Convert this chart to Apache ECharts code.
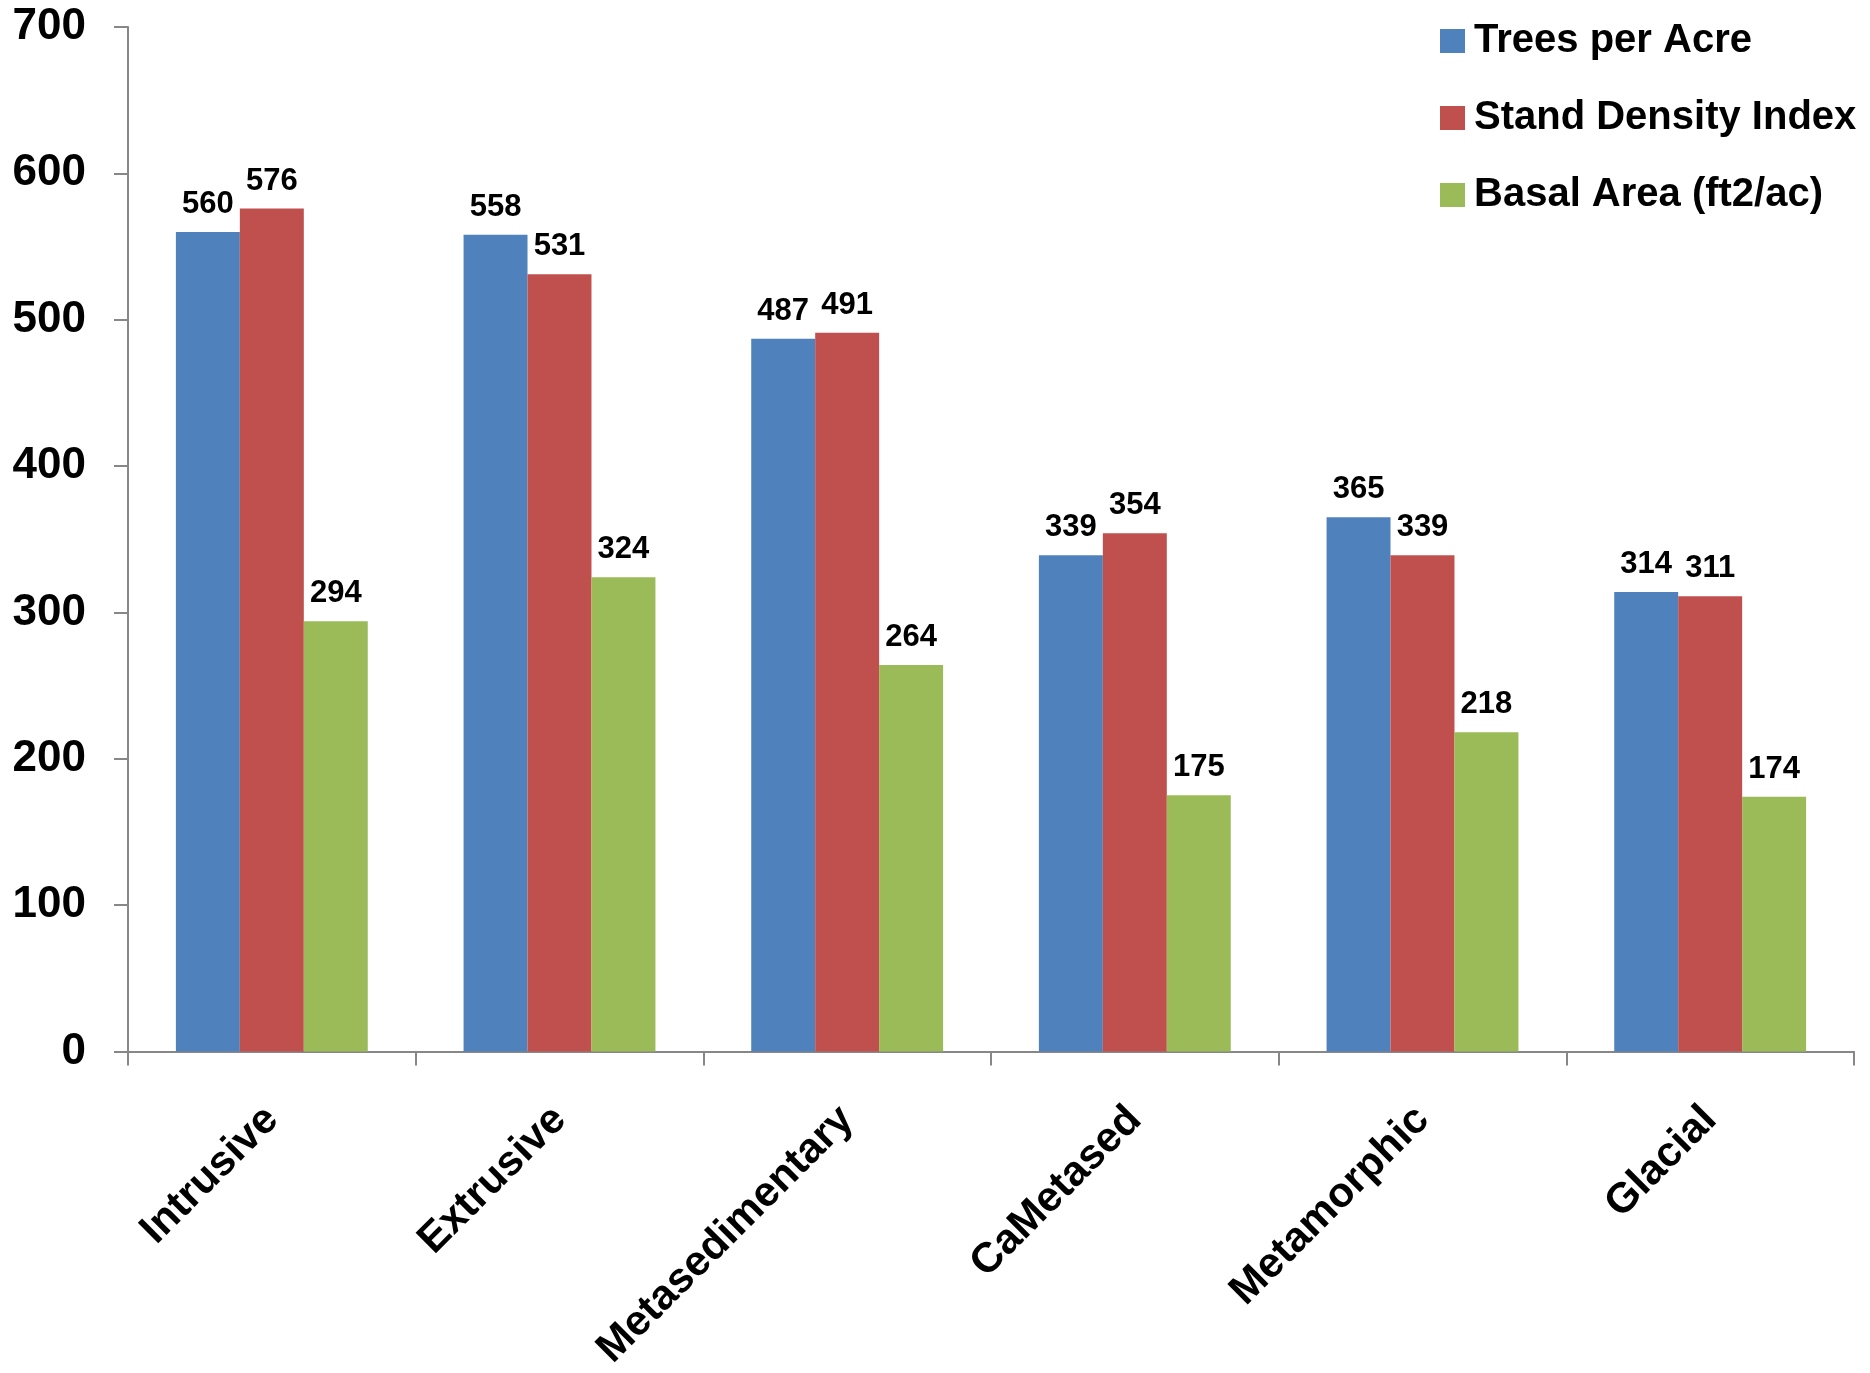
<!DOCTYPE html>
<html>
<head>
<meta charset="utf-8">
<script src="https://cdn.jsdelivr.net/npm/echarts@6/dist/echarts.min.js"></script>
<style>
  html, body { margin: 0; padding: 0; background: #ffffff; }
  #chart { width: 1870px; height: 1373px; }
</style>
</head>
<body>
<div id="chart"></div>
<script>
// Rock type categories
const categories = ['Intrusive', 'Extrusive', 'Metasedimentary', 'CaMetased', 'Metamorphic', 'Glacial'];

// Stand metrics per rock type
const treesPerAcre = [560, 558, 487, 339, 365, 314];
const standDensityIndex = [576, 531, 491, 354, 339, 311];
const basalArea = [294, 324, 264, 175, 218, 174];

const seriesNames = ['Trees per Acre', 'Stand Density Index', 'Basal Area (ft2/ac)'];
const seriesColors = ['#4F81BD', '#C0504D', '#9BBB59'];

const FONT = '"Liberation Sans", Arial, sans-serif';
const AXIS_COLOR = '#878787';

function barSeries(name, data, color) {
  return {
    name: name,
    type: 'bar',
    data: data,
    barGap: '0%',
    barCategoryGap: '33.3%',
    itemStyle: { color: color },
    label: {
      show: true,
      position: 'top',
      distance: 12,
      color: '#000',
      fontFamily: FONT,
      fontWeight: 'bold',
      fontSize: 31
    }
  };
}

const chart = echarts.init(document.getElementById('chart'));
chart.setOption({
  animation: false,
  backgroundColor: '#ffffff',
  textStyle: { fontFamily: FONT },
  grid: { left: 128, right: 16, top: 27, bottom: 321, containLabel: false },
  legend: {
    orient: 'vertical',
    left: 1440,
    top: 21,
    padding: 0,
    itemWidth: 25,
    itemHeight: 24,
    itemGap: 37,
    icon: 'rect',
    textStyle: {
      color: '#000',
      fontFamily: FONT,
      fontWeight: 'bold',
      fontSize: 40,
      lineHeight: 40,
      padding: [0, 0, 0, 4]
    },
    data: seriesNames
  },
  xAxis: {
    type: 'category',
    data: categories,
    axisLine: { lineStyle: { color: AXIS_COLOR, width: 2 } },
    axisTick: { show: true, length: 14, lineStyle: { color: AXIS_COLOR, width: 2 } },
    axisLabel: {
      rotate: 45,
      interval: 0,
      margin: 62,
      color: '#000',
      fontFamily: FONT,
      fontWeight: 'bold',
      fontSize: 42
    }
  },
  yAxis: {
    type: 'value',
    min: 0,
    max: 700,
    interval: 100,
    splitLine: { show: false },
    axisLine: { show: true, lineStyle: { color: AXIS_COLOR, width: 2 } },
    axisTick: { show: true, length: 14, lineStyle: { color: AXIS_COLOR, width: 2 } },
    axisLabel: {
      margin: 42,
      color: '#000',
      fontFamily: FONT,
      fontWeight: 'bold',
      fontSize: 44
    }
  },
  series: [
    barSeries(seriesNames[0], treesPerAcre, seriesColors[0]),
    barSeries(seriesNames[1], standDensityIndex, seriesColors[1]),
    barSeries(seriesNames[2], basalArea, seriesColors[2])
  ]
});
</script>
</body>
</html>
